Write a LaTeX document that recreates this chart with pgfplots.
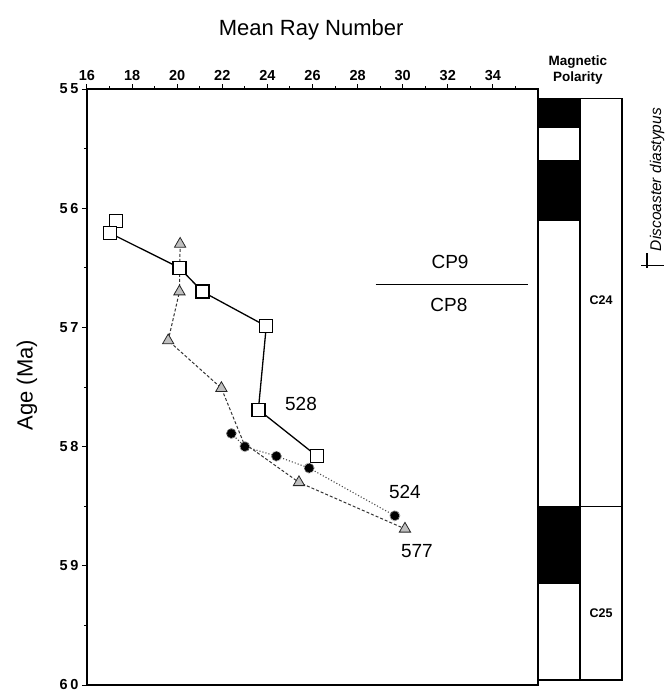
\documentclass[border=0pt]{standalone}
\usepackage{fontspec}
\setmainfont{Liberation Sans}
\setsansfont{Liberation Sans}
\newfontfamily\tickfont[LetterSpace=18]{Liberation Sans}
\usepackage{pgfplots}
\pgfplotsset{compat=1.18}
\begin{document}
\begin{tikzpicture}
\begin{axis}[
  at={(0,0)}, anchor=south west,
  scale only axis, width=451pt, height=596pt,
  xmin=16, xmax=36, ymin=55, ymax=60, y dir=reverse,
  clip=false,
  xtick={16,18,...,34}, minor xtick={17,19,...,35},
  ytick={55,56,...,60}, minor ytick={55.5,56.5,...,59.5},
  xtick pos=right, xticklabel pos=right,
  ytick pos=left,
  tick align=outside,
  major tick length=5pt, minor tick length=3pt,
  every tick/.style={black, line width=1pt},
  axis line style={line width=1.4pt},
  /pgf/number format/assume math mode=true,
  xticklabel style={font=\fontsize{14.5}{14.5}\selectfont\bfseries},
  yticklabel style={font=\tickfont\fontsize{14.5}{14.5}\selectfont\bfseries},
  xlabel={Mean Ray Number}, ylabel={Age (Ma)},
  xlabel style={at={(axis description cs:0.497,1.1)}, anchor=center, font=\fontsize{22}{22}\selectfont},
  ylabel style={at={(axis description cs:-0.133,0.503)}, anchor=center, font=\fontsize{22}{22}\selectfont},
]
% polarity blocks
\addplot[fill=black, draw=black] coordinates {(36,55.08) (37.86,55.08) (37.86,55.32) (36,55.32)} -- cycle;
\addplot[fill=black, draw=black] coordinates {(36,55.6) (37.86,55.6) (37.86,56.1) (36,56.1)} -- cycle;
\addplot[fill=black, draw=black] coordinates {(36,58.5) (37.86,58.5) (37.86,59.15) (36,59.15)} -- cycle;
\draw[line width=1.5pt] (axis cs:36,55.08) rectangle (axis cs:37.86,59.96);
\draw[line width=1.5pt] (axis cs:37.86,55.08) rectangle (axis cs:39.73,59.96);
\draw[line width=1pt] (axis cs:37.86,58.5) -- (axis cs:39.73,58.5);
\node[font=\fontsize{13.5}{16.5}\selectfont\bfseries, align=center] at (axis cs:37.77,54.84) {Magnetic\\Polarity};
\node[font=\fontsize{12.5}{12.5}\selectfont\bfseries] at (axis cs:38.8,56.77) {C24};
\node[font=\fontsize{12.5}{12.5}\selectfont\bfseries] at (axis cs:38.8,59.4) {C25};
\node[font=\fontsize{15.5}{15.5}\selectfont\itshape, rotate=90] at (axis cs:41.28,55.76) {Discoaster diastypus};
\draw[line width=1.2pt] (axis cs:40.57,56.48) -- (axis cs:41.59,56.48);
\draw[line width=1.2pt] (axis cs:40.83,56.38) -- (axis cs:40.83,56.5);
% zones
\draw[line width=1.2pt] (axis cs:28.8,56.64) -- (axis cs:35.56,56.64);
\node[font=\fontsize{19}{19}\selectfont] at (axis cs:32.1,56.45) {CP9};
\node[font=\fontsize{19}{19}\selectfont] at (axis cs:32.05,56.81) {CP8};
% 528
\addplot[black, line width=1.3pt, mark=square*, mark size=6.5pt, mark options={fill=white, line width=1.3pt}] coordinates {(17.28,56.11) (17.03,56.21) (20.1,56.5) (21.12,56.7) (23.95,56.99) (23.6,57.69) (26.2,58.08)};
% 577
\addplot[gray!40!black, densely dashed, line width=1pt] coordinates {(20.13,56.3) (20.1,56.7) (19.6,57.11) (21.96,57.51) (22.95,57.97) (25.4,58.3) (30.1,58.69)};
\addplot[only marks, mark=triangle*, mark size=6.5pt, mark options={fill=gray!50, draw=gray!30!black, line width=0.8pt}] coordinates {(20.13,56.3) (20.1,56.7) (19.6,57.11) (21.96,57.51) (25.4,58.3) (30.1,58.69)};
% 524
\addplot[gray!60!black, dotted, line width=1.1pt, mark=*, mark size=5pt, mark options={fill=black, draw=gray!70, line width=1pt, densely dotted}] coordinates {(22.4,57.89) (23.0,58.0) (24.4,58.08) (25.85,58.18) (29.65,58.58)};
\node[font=\fontsize{19}{19}\selectfont] at (axis cs:25.49,57.64) {528};
\node[font=\fontsize{19}{19}\selectfont] at (axis cs:30.1,58.38) {524};
\node[font=\fontsize{19}{19}\selectfont] at (axis cs:30.63,58.88) {577};
\end{axis}
\pgfresetboundingbox
\path (-87pt,-7pt) rectangle (580pt,685pt);
\end{tikzpicture}
\end{document}
